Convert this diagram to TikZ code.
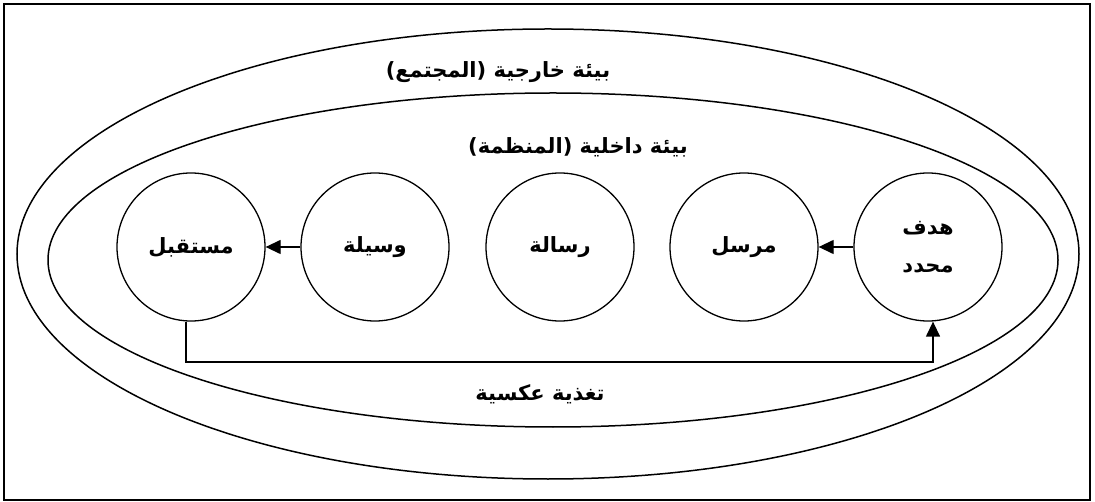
\documentclass[tikz,border=0pt]{standalone}
\usepackage{fontspec}
\usetikzlibrary{arrows.meta}
\TeXXeTstate=1
\newfontfamily\arabicfont[Script=Arabic]{DejaVu Sans}
\tikzset{
  frame/.style={line width=2.6pt},
  env/.style={line width=1.5pt},
  unit/.style={circle, draw, line width=1.3pt, minimum size=148pt, inner sep=0pt, font=\arabicfont\bfseries\fontsize{21}{28}\selectfont, align=center},
  lbl/.style={font=\arabicfont\bfseries\fontsize{21}{28}\selectfont, inner sep=0pt},
  arr/.style={line width=1.3pt, -{Triangle[length=15pt,width=14pt]}}
}
\begin{document}
\begin{tikzpicture}[x=1pt,y=-1pt]
\useasboundingbox (0,0) rectangle (1095,502);
\draw[frame] (4,4) rectangle (1090,500);
\draw[env] (548,254) ellipse [x radius=531, y radius=225];
\draw[env] (553,260) ellipse [x radius=505, y radius=167];
\node[lbl] (outer) at (498,72) {\beginR بيئة خارجية (المجتمع)\endR};
\node[lbl] (inner) at (578,147) {\beginR بيئة داخلية (المنظمة)\endR};
\node[lbl] (fblbl) at (540,394) {\beginR تغذية عكسية\endR};
\node[unit] (mustaqbil) at (191,247) {\beginR مستقبل\endR};
\node[unit] (wasila) at (375,247) {\beginR وسيلة\endR};
\node[unit] (risala) at (560,247) {\beginR رسالة\endR};
\node[unit] (mursil) at (744,247) {\beginR مرسل\endR};
\node[unit] (hadaf) at (928,247) {\beginR هدف\endR\\[10pt]\beginR محدد\endR};
\draw[arr] (hadaf.west) -- (mursil.east);
\draw[arr] (wasila.west) -- (mustaqbil.east);
\coordinate (fb) at (0,362);
\draw[arr] ([xshift=-5pt]mustaqbil.south) |- ([xshift=5pt]hadaf.south |- fb) -- ([xshift=5pt]hadaf.south);
\end{tikzpicture}
\end{document}
